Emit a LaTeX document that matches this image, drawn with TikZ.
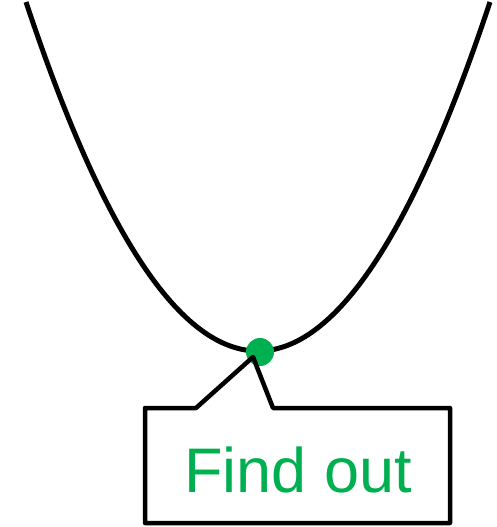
\documentclass[tikz,border=0pt]{standalone}
\usepackage{fontspec}
\setmainfont{Liberation Sans}
\definecolor{findgreen}{HTML}{00B050}
\begin{document}
\begin{tikzpicture}[x=1pt, y=1pt,
    curve/.style={line width=5pt, black},
    dot/.style={circle, fill=findgreen, inner sep=0pt, minimum size=28pt},
    callout/.style={line width=4.5pt, black, line join=round},
    findtext/.style={text=findgreen, font=\fontsize{63}{70}\selectfont, inner sep=0pt}]
    \useasboundingbox (0,0) rectangle (497,-527);

    \draw[curve, domain=26:490, samples=120] plot (\x, {-351 + 346*((\x-258)/231)^2});

    \node (mini) [dot] at (260,-352) {};
    \coordinate (tip) at (253,-357);
    \coordinate (boxnw) at (145,-408);
    \coordinate (boxse) at (450,-523);

    \draw[callout] (196,-408) -- (tip) -- (273,-408) -- (boxse |- boxnw) -- (boxse) -- (boxnw |- boxse) -- (boxnw) -- cycle;

    \node (find) [findtext, anchor=base] at (298,-492) {Find out};
\end{tikzpicture}
\end{document}
